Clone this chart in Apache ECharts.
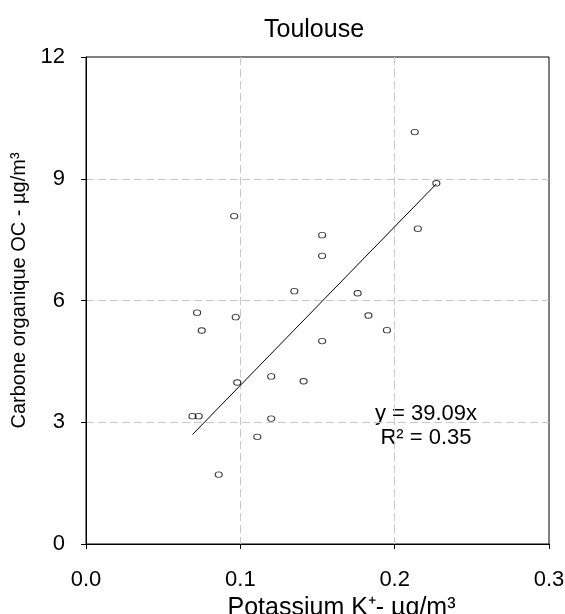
<!DOCTYPE html>
<html>
<head>
<meta charset="utf-8">
<script src="https://cdn.jsdelivr.net/npm/echarts@6/dist/echarts.min.js"></script>
<style>
  html, body { margin: 0; padding: 0; background: #fff; }
  #chart { width: 565px; height: 614px; }
</style>
</head>
<body>
<div id="chart"></div>
<script>
// Potassium (K+) vs organic carbon (OC), Toulouse
const potassium = [0.213, 0.227, 0.096, 0.153, 0.153, 0.215, 0.135, 0.176, 0.072, 0.097, 0.183,
                   0.195, 0.075, 0.153, 0.120, 0.141, 0.098, 0.069, 0.073, 0.120, 0.111, 0.086];
const organicCarbon = [10.15, 8.89, 8.08, 7.61, 7.10, 7.77, 6.23, 6.18, 5.70, 5.59, 5.63,
                       5.27, 5.26, 5.00, 4.13, 4.01, 3.98, 3.15, 3.15, 3.09, 2.64, 1.71];
const slope = 39.09;      // linear fit through the origin
const rSquared = 0.35;
const xTicks = [0, 0.1, 0.2, 0.3];
const yTicks = [0, 3, 6, 9, 12];

const FONT = 'Liberation Sans, Arial, sans-serif';

const points = potassium.map((x, i) => [x, organicCarbon[i]]);
const xMin = Math.min(...potassium);
const xMax = Math.max(...potassium);
const fitLine = [[xMin, slope * xMin], [xMax, slope * xMax]];

const chart = echarts.init(document.getElementById('chart'), null, { renderer: 'canvas' });

const gridLine = {
  show: true,
  showMinLine: false,
  showMaxLine: false,
  lineStyle: { color: '#c8c8c8', type: [8, 4], width: 1 }
};

chart.setOption({
  backgroundColor: '#fff',
  animation: false,
  title: {
    text: 'Toulouse',
    left: 259,
    top: 13,
    textStyle: { fontFamily: FONT, fontSize: 25, fontWeight: 'normal', color: '#000' }
  },
  grid: {
    left: 86, right: 16, top: 57, bottom: 70,
    outerBoundsMode: 'none',
    containLabel: false,
    show: true, borderColor: '#000', borderWidth: 1, backgroundColor: 'transparent'
  },
  xAxis: {
    type: 'value',
    min: xTicks[0],
    max: xTicks[xTicks.length - 1],
    interval: 0.1,
    name: 'Potassium K\u207A- \u00B5g/m\u00B3',
    nameLocation: 'middle',
    nameGap: 52,
    nameTextStyle: { fontFamily: FONT, fontSize: 25, color: '#000', padding: [0, 0, 0, 48] },
    axisLine: { show: true, lineStyle: { color: '#000', width: 1 } },
    axisTick: { show: true, length: 5, lineStyle: { color: '#000' } },
    axisLabel: {
      fontFamily: FONT, fontSize: 22, color: '#000', margin: 25,
      formatter: v => v.toFixed(1)
    },
    splitLine: gridLine
  },
  yAxis: {
    type: 'value',
    min: yTicks[0],
    max: yTicks[yTicks.length - 1],
    interval: 3,
    name: 'Carbone organique OC - \u00B5g/m\u00B3',
    nameLocation: 'middle',
    nameGap: 51,
    nameTextStyle: { fontFamily: FONT, fontSize: 20, color: '#000', padding: [0, 0, 0, 20] },
    axisLine: { show: true, lineStyle: { color: '#000', width: 1 } },
    axisTick: { show: true, length: 5, lineStyle: { color: '#000' } },
    axisLabel: { fontFamily: FONT, fontSize: 22, color: '#000', margin: 21 },
    splitLine: gridLine
  },
  graphic: [
    {
      type: 'text',
      x: 426,
      y: 402,
      style: {
        text: 'y = ' + slope.toFixed(2) + 'x\nR\u00B2 = ' + rSquared.toFixed(2),
        fontFamily: FONT,
        fontSize: 22,
        lineHeight: 24,
        fill: '#000',
        align: 'center',
        verticalAlign: 'top'
      }
    }
  ],
  series: [
    {
      type: 'line',
      data: fitLine,
      symbol: 'none',
      lineStyle: { color: '#000', width: 1 },
      z: 2
    },
    {
      type: 'scatter',
      data: points,
      symbol: 'circle',
      symbolSize: [7, 5.5],
      itemStyle: { color: 'rgba(255,255,255,0)', borderColor: '#000', borderWidth: 1 },
      z: 3
    }
  ]
});
</script>
</body>
</html>
